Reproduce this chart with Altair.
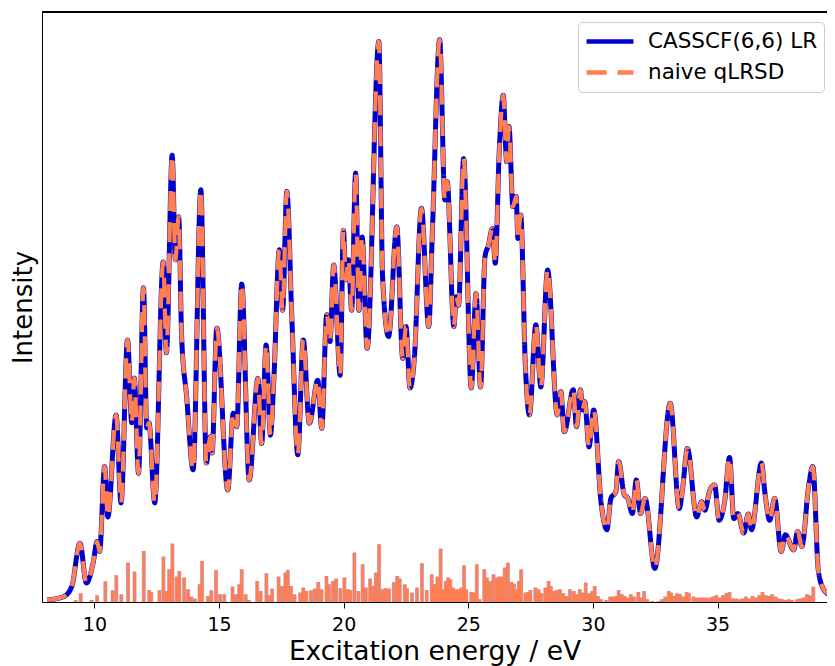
import altair as alt
import pandas as pd

# ---- spectrum curves (eV, arbitrary intensity) ----
curve_energy = [8.10, 8.76, 9.09, 9.42, 9.68, 9.95, 10.11, 10.21, 10.41, 10.54,
                10.87, 11.07, 11.33, 11.50, 11.60, 11.77, 11.97, 12.10, 12.19, 12.42,
                12.76, 12.89, 13.12, 13.25, 13.38, 13.50, 13.70, 13.96, 14.27, 14.49,
                14.65, 14.72, 14.91, 15.35, 15.57, 15.71, 15.91, 16.21, 16.56, 16.71,
                16.89, 17.06, 17.20, 17.42, 17.55, 17.72, 17.92, 18.16, 18.38, 18.62,
                18.96, 19.12, 19.32, 19.45, 19.60, 19.86, 19.99, 20.09, 20.19, 20.32,
                20.48, 20.61, 20.74, 20.94, 21.41, 21.56, 21.80, 22.13, 22.37, 22.50,
                22.66, 22.83, 23.12, 23.41, 23.56, 23.85, 24.06, 24.15, 24.42, 24.52,
                24.61, 24.81, 25.12, 25.31, 25.49, 25.67, 25.80, 25.97, 26.08, 26.24,
                26.40, 26.54, 26.63, 26.79, 26.92, 26.99, 27.10, 27.29, 27.45, 27.71,
                27.91, 28.18, 28.57, 28.71, 28.85, 29.21, 29.34, 29.50, 29.58, 29.67,
                29.84, 30.03, 30.33, 30.56, 30.72, 30.92, 31.03, 31.26, 31.39, 31.58,
                31.74, 31.91, 32.09, 32.48, 33.10, 33.46, 33.59, 33.79, 34.16, 34.36,
                34.49, 34.69, 34.88, 35.06, 35.28, 35.48, 35.65, 35.81, 36.05, 36.23,
                36.36, 36.76, 36.90, 37.09, 37.29, 37.55, 37.72, 38.05, 38.21, 38.38,
                38.65, 38.82, 39.04, 39.24, 39.50]
casscf_intensity = [0.36, 0.95, 2.73, 10.5, 3.4, 7.0, 10.8, 9.0, 24.2, 15.2,
                    33.4, 17.7, 46.8, 32.0, 40.0, 23.0, 56.1, 31.1, 32.0, 17.7,
                    60.7, 44.5, 79.8, 61.1, 68.8, 47.4, 36.7, 23.6, 73.6, 24.8,
                    29.5, 26.6, 48.9, 20.0, 33.7, 31.3, 56.8, 21.8, 39.9, 28.3,
                    45.9, 29.8, 39.9, 62.9, 52.1, 73.3, 50.9, 26.3, 46.8, 31.9,
                    39.6, 31.0, 51.3, 46.5, 60.2, 40.5, 66.4, 57.5, 61.1, 52.1,
                    76.6, 52.1, 65.2, 45.3, 100.1, 58.1, 47.4, 67.0, 43.5, 49.2,
                    38.2, 43.2, 70.3, 49.2, 66.4, 100.4, 71.8, 75.1, 49.2, 54.5,
                    53.0, 79.2, 38.2, 55.1, 38.4, 61.7, 63.6, 66.7, 60.5, 80.4,
                    90.5, 78.6, 84.9, 70.6, 72.4, 64.9, 69.1, 42.0, 33.4, 49.5,
                    38.4, 59.3, 33.4, 37.6, 30.4, 37.9, 31.3, 37.9, 34.3, 35.8,
                    27.7, 34.3, 17.6, 12.9, 18.5, 19.7, 25.1, 19.1, 18.6, 15.8,
                    21.8, 15.8, 18.5, 6.0, 35.5, 16.7, 20.0, 27.4, 15.2, 17.9,
                    16.4, 20.0, 20.9, 14.6, 17.9, 25.8, 14.9, 15.8, 12.3, 15.7,
                    12.9, 24.8, 19.4, 14.6, 18.5, 9.0, 12.0, 9.3, 12.6, 9.9,
                    20.6, 24.2, 5.7, 2.4, 1.25]
# the naive qLRSD curve lies on top of the CASSCF curve everywhere in the picture
qlrsd_intensity = list(casscf_intensity)

# ---- stick spectrum ----
stick_energy = [9.25, 9.45, 9.89, 10.11, 10.44, 10.73, 10.88, 11.08, 11.35, 11.61,
                11.98, 12.20, 12.28, 12.61, 12.77, 12.90, 13.00, 13.13, 13.30, 13.41,
                13.60, 13.76, 13.89, 14.03, 14.22, 14.32, 14.55, 14.69, 14.88, 15.04,
                15.21, 15.54, 15.68, 15.81, 15.91, 16.07, 16.20, 16.53, 16.67, 16.90,
                17.00, 17.13, 17.39, 17.52, 17.66, 17.76, 17.89, 18.03, 18.25, 18.38,
                18.51, 18.69, 18.84, 18.98, 19.11, 19.31, 19.41, 19.57, 19.70, 19.87,
                20.03, 20.17, 20.27, 20.43, 20.59, 20.76, 20.89, 21.06, 21.16, 21.29,
                21.42, 21.55, 21.68, 21.82, 22.01, 22.15, 22.25, 22.45, 22.54, 22.74,
                22.94, 23.14, 23.33, 23.53, 23.64, 23.76, 23.89, 23.99, 24.09, 24.19,
                24.28, 24.39, 24.48, 24.61, 24.72, 24.83, 24.92, 25.12, 25.22, 25.34,
                25.45, 25.64, 25.75, 25.88, 26.01, 26.15, 26.24, 26.37, 26.46, 26.59,
                26.73, 26.83, 26.94, 27.03, 27.12, 27.29, 27.40, 27.49, 27.69, 27.82,
                27.93, 28.09, 28.22, 28.31, 28.42, 28.55, 28.68, 28.81, 28.94, 29.08,
                29.23, 29.34, 29.47, 29.60, 29.71, 29.84, 29.97, 30.07, 30.20, 30.33,
                30.53, 30.69, 30.79, 30.92, 31.03, 31.16, 31.27, 31.39, 31.52, 31.65,
                31.82, 31.95, 32.05, 32.18, 32.38, 32.64, 32.77, 32.90, 33.04, 33.14,
                33.23, 33.37, 33.50, 33.63, 33.76, 33.85, 34.03, 34.16, 34.29, 34.42,
                34.55, 34.69, 34.82, 34.95, 35.08, 35.21, 35.35, 35.48, 35.61, 35.74,
                35.87, 36.01, 36.14, 36.27, 36.40, 36.53, 36.67, 36.80, 36.93, 37.06,
                37.19, 37.33, 37.46, 37.59, 37.72, 37.85, 37.99, 38.19, 38.32, 38.45,
                38.58, 38.71, 38.84]
stick_height = [0.36, 1.55, 0.36, 1.19, 3.69, 2.08, 4.76, 1.37, 7.02, 5.42,
                9.11, 2.14, 1.79, 2.14, 8.10, 1.96, 5.83, 10.42, 4.52, 5.54,
                4.35, 2.26, 0.95, 0.60, 3.15, 7.32, 1.07, 2.08, 5.71, 1.37,
                1.37, 2.74, 1.37, 3.15, 5.83, 1.37, 0.36, 3.75, 1.96, 5.12,
                1.19, 2.38, 4.52, 2.86, 5.24, 5.71, 2.86, 1.37, 1.67, 2.56,
                1.96, 2.08, 2.38, 3.57, 2.26, 4.64, 3.15, 3.75, 4.17, 2.44,
                4.35, 2.26, 2.14, 8.81, 1.96, 6.73, 2.56, 4.17, 2.86, 5.24,
                10.30, 2.26, 2.44, 2.38, 3.57, 4.64, 4.17, 3.15, 2.44, 1.67,
                2.56, 6.90, 2.14, 4.94, 3.15, 4.52, 9.52, 2.26, 3.75, 4.35,
                4.05, 2.56, 2.26, 2.26, 2.56, 6.55, 2.26, 1.79, 1.67, 6.73,
                0.48, 5.83, 4.35, 3.75, 4.94, 4.35, 4.52, 4.52, 6.13, 7.02,
                3.57, 3.27, 2.26, 3.75, 5.83, 1.67, 1.79, 2.14, 2.56, 2.26,
                1.55, 2.56, 3.75, 2.86, 1.96, 2.14, 2.26, 1.55, 1.07, 2.26,
                1.96, 1.37, 2.26, 1.67, 3.45, 1.55, 1.96, 2.86, 1.07, 0.48,
                0.36, 0.95, 0.95, 1.07, 2.14, 1.37, 1.07, 0.77, 1.37, 0.95,
                1.79, 0.77, 1.96, 0.48, 0.18, 0.18, 0.48, 0.95, 1.96, 1.67,
                1.07, 1.55, 1.37, 0.95, 1.79, 1.55, 0.95, 0.77, 0.77, 0.77,
                0.77, 0.77, 0.95, 1.19, 0.77, 1.19, 1.55, 1.79, 0.60, 0.60,
                0.48, 0.60, 0.95, 0.60, 1.07, 0.77, 1.19, 1.79, 1.19, 1.07,
                1.37, 0.95, 0.60, 0.48, 0.36, 0.48, 0.36, 0.48, 0.60, 0.77,
                1.37, 1.19, 2.74]

series_names = ["CASSCF(6,6) LR", "naive qLRSD"]
series_colors = ["#0000CD", "#FF7F50"]
x_ticks = [10, 15, 20, 25, 30, 35]
x_range = [8.099, 39.188]
y_range = [0, 105.36]

casscf_df = pd.DataFrame({"E": curve_energy, "I": casscf_intensity, "series": series_names[0]})
qlrsd_df = pd.DataFrame({"E": curve_energy, "I": qlrsd_intensity, "series": series_names[1]})
stick_df = pd.DataFrame({"E": stick_energy, "h": stick_height})

FONT = "DejaVu Sans"
xscale = alt.Scale(domain=x_range, nice=False, zero=False)
yscale = alt.Scale(domain=y_range, nice=False, zero=False)
color_scale = alt.Scale(domain=series_names, range=series_colors)
dash_scale = alt.Scale(domain=series_names, range=[[1, 0], [20, 11]])

legend = alt.Legend(
    title=None, orient="none", legendX=536, legendY=10, padding=6,
    fillColor="rgba(255,255,255,0.85)", strokeColor="#cccccc", cornerRadius=4,
    symbolType="stroke", symbolSize=2200, symbolStrokeWidth=4.5,
    labelFontSize=21.5, labelFont=FONT, labelColor="black", labelOffset=12,
    labelLimit=400, rowPadding=4, clipHeight=27,
)

x_axis = alt.Axis(
    values=x_ticks, format="d", grid=False, tickSize=6, tickColor="black",
    domainColor="black", labelColor="black", labelFontSize=19, labelFont=FONT,
    labelPadding=7, titleFontSize=26.5, titleFont=FONT, titleFontWeight="normal",
    titleColor="black", titlePadding=4,
)
y_axis = alt.Axis(labels=False, ticks=False, grid=False, domainColor="black",
                  titleFontSize=26, titleFont=FONT, titleFontWeight="normal",
                  titleColor="black", titlePadding=6)

sticks_base = alt.Chart(stick_df).encode(
    x=alt.X("E:Q", scale=xscale, axis=x_axis, title="Excitation energy / eV"),
    y=alt.Y("h:Q", scale=yscale, axis=y_axis, title="Intensity"),
)
sticks_blue = sticks_base.mark_bar(size=4, color="#5a4fd0", opacity=0.45, clip=True)
sticks_orange = sticks_base.mark_bar(size=3, color="#FF7F50", clip=True)


def curve(df, width):
    return alt.Chart(df).mark_line(strokeWidth=width, interpolate="monotone", clip=True).encode(
        x=alt.X("E:Q", scale=xscale, axis=x_axis, title="Excitation energy / eV"),
        y=alt.Y("I:Q", scale=yscale, axis=y_axis, title="Intensity"),
        color=alt.Color("series:N", scale=color_scale, legend=legend),
        strokeDash=alt.StrokeDash("series:N", scale=dash_scale, legend=legend),
    )


line_blue = curve(casscf_df, 5)
line_orange = curve(qlrsd_df, 4.2)

# top frame line of the axes box, at the upper end of the intensity range
top_spine = alt.Chart(stick_df).mark_rule(color="black", strokeWidth=1).encode(
    y=alt.datum(y_range[1], scale=yscale)
)

chart = alt.layer(sticks_blue, sticks_orange, line_blue, line_orange, top_spine).properties(
    width=785, height=590,
    padding={"left": 34, "top": 4, "right": 0, "bottom": 66},
    autosize=alt.AutoSizeParams(type="none"),
).configure_view(stroke=None).configure(font=FONT)

chart.save("out.html", embed_options={"renderer": "svg", "actions": False})
